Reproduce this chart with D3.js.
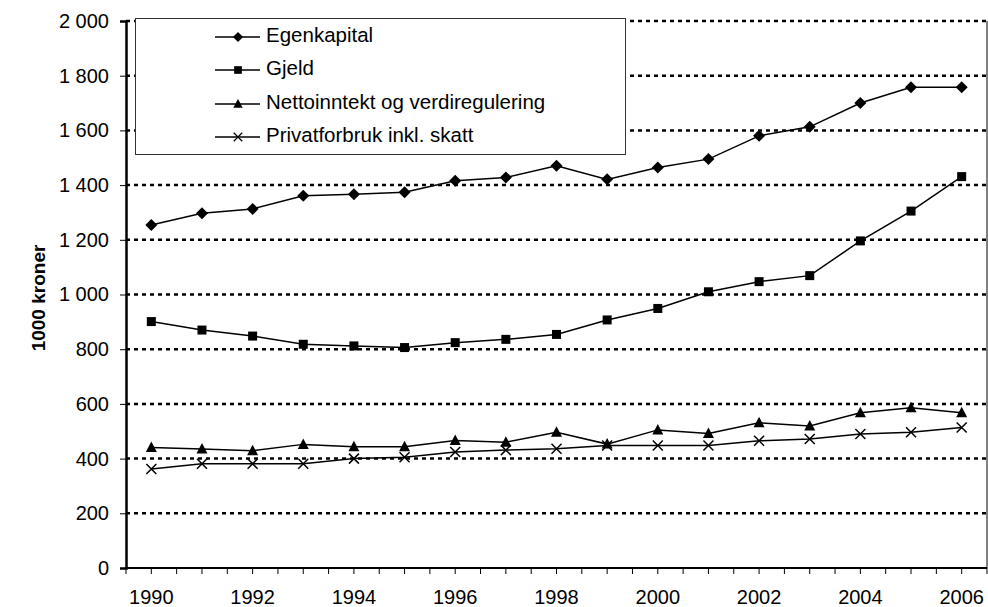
<!DOCTYPE html>
<head>
<title>Egenkapital og gjeld</title>
<style>
  body { margin: 0; background: #fff; }
  text { font-family: "Liberation Sans", Arial, sans-serif; fill: #000; }
</style>
</head>
<body>
<svg width="988" height="607" id="chart"></svg>
<script src="https://d3js.org/d3.v7.min.js"></script>
<script>

var years = d3.range(1990, 2007);
var egenkapital = [1254, 1297, 1313, 1361, 1367, 1374, 1416, 1428, 1471, 1421, 1464, 1495, 1580, 1613, 1700, 1758, 1758];
var gjeld = [901, 870, 848, 818, 812, 806, 824, 836, 854, 907, 949, 1010, 1047, 1069, 1196, 1305, 1431];
var nettoinntekt = [441, 435, 429, 452, 443, 443, 466, 460, 496, 453, 505, 492, 531, 519, 568, 586, 568];
var privatforbruk = [362, 381, 381, 381, 400, 405, 424, 431, 436, 448, 448, 448, 465, 472, 490, 496, 514];
var seriesNames = ["Egenkapital", "Gjeld", "Nettoinntekt og verdiregulering", "Privatforbruk inkl. skatt"];
var markers = ["diamond", "square", "triangle", "cross"];
var yTicks = [0, 200, 400, 600, 800, 1000, 1200, 1400, 1600, 1800, 2000];

var series = [egenkapital, gjeld, nettoinntekt, privatforbruk].map(function(v, i) {
  return { name: seriesNames[i], marker: markers[i], values: v };
});

var svg = d3.select("#chart");
var plotLeft = 126, plotRight = 987, plotTop = 21, plotBottom = 568;

var x = d3.scaleBand().domain(years).range([plotLeft, plotRight]);
var y = d3.scaleLinear().domain([0, 2000]).range([plotBottom, plotTop]);
var fmt = function(d) { return d3.format(",")(d).replace(",", " "); };
var cx = function(yr) { return x(yr) + x.bandwidth() / 2; };

// gridlines
svg.append("g").selectAll("line")
  .data(yTicks.filter(function(d) { return d > 0; }))
  .enter().append("line")
  .attr("x1", plotLeft).attr("x2", plotRight)
  .attr("y1", function(d) { return y(d); }).attr("y2", function(d) { return y(d); })
  .attr("stroke", "#000").attr("stroke-width", 2.5).attr("stroke-dasharray", "4,4");

// right border
svg.append("line").attr("x1", plotRight).attr("x2", plotRight).attr("y1", plotTop).attr("y2", plotBottom)
  .attr("stroke", "#000").attr("stroke-width", 1);

// y axis
var yAxis = svg.append("g")
  .attr("transform", "translate(" + plotLeft + ",0)")
  .call(d3.axisLeft(y).tickValues(yTicks).tickFormat(fmt).tickSize(6).tickPadding(11));
yAxis.select(".domain").attr("stroke-width", 2.5);
yAxis.selectAll("text").style("font-size", "20px").style("font-family", "Liberation Sans, Arial, sans-serif");

// x axis: ticks at category centres and boundaries
var xAxisG = svg.append("g").attr("transform", "translate(0," + plotBottom + ")");
xAxisG.append("line").attr("x1", plotLeft).attr("x2", plotRight).attr("stroke", "#000").attr("stroke-width", 2);
var tickPos = [];
years.forEach(function(yr) { tickPos.push(x(yr)); tickPos.push(cx(yr)); });
tickPos.push(plotRight);
xAxisG.selectAll(".tk").data(tickPos).enter().append("line")
  .attr("x1", function(d) { return d; }).attr("x2", function(d) { return d; })
  .attr("y1", 0).attr("y2", 6).attr("stroke", "#000").attr("stroke-width", 1);
xAxisG.selectAll(".lbl").data(years.filter(function(d) { return d % 2 === 0; }))
  .enter().append("text")
  .attr("x", function(d) { return cx(d); })
  .attr("y", 36)
  .attr("text-anchor", "middle")
  .style("font-size", "20px")
  .text(function(d) { return d; });

// y title
svg.append("text")
  .attr("transform", "translate(45,298) rotate(-90)")
  .attr("text-anchor", "middle")
  .style("font-size", "19px").style("font-weight", "bold")
  .text("1000 kroner");

function drawMarker(g, type, k) {
  k = k || 1;
  if (type === "diamond") {
    g.append("path").attr("d", "M0,-6L6,0L0,6L-6,0Z").attr("fill", "#000").attr("transform", "scale(" + k + ")");
  } else if (type === "square") {
    g.append("rect").attr("x", -4.5).attr("y", -4.5).attr("width", 9).attr("height", 9).attr("fill", "#000").attr("transform", "scale(" + k + ")");
  } else if (type === "triangle") {
    g.append("path").attr("d", "M0,-6L5.5,4.5L-5.5,4.5Z").attr("fill", "#000").attr("transform", "scale(" + k + ")");
  } else {
    g.append("path").attr("d", "M-5,-5L5,5M-5,5L5,-5").attr("stroke", "#000").attr("stroke-width", 1.5).attr("fill", "none").attr("transform", "scale(" + k + ")");
  }
}

var line = d3.line()
  .x(function(d, i) { return cx(years[i]); })
  .y(function(d) { return y(d); });

series.forEach(function(s) {
  svg.append("path").datum(s.values)
    .attr("d", line).attr("fill", "none").attr("stroke", "#000").attr("stroke-width", 1.5);
  svg.append("g").selectAll("g").data(s.values).enter().append("g")
    .attr("transform", function(d, i) { return "translate(" + cx(years[i]) + "," + y(d) + ")"; })
    .each(function() { drawMarker(d3.select(this), s.marker); });
});

// legend
var legend = svg.append("g");
legend.append("rect").attr("x", 135.5).attr("y", 18.5).attr("width", 490).attr("height", 136)
  .attr("fill", "#fff").attr("stroke", "#333").attr("stroke-width", 1);
var rowY = [37, 70, 104, 137];
series.forEach(function(s, i) {
  var row = legend.append("g").attr("transform", "translate(0," + rowY[i] + ")");
  row.append("line").attr("x1", 215).attr("x2", 260).attr("stroke", "#000").attr("stroke-width", 1.5);
  var m = row.append("g").attr("transform", "translate(238,0)");
  drawMarker(m, s.marker, 0.85);
  row.append("text").attr("x", 266).attr("y", 5).style("font-size", "20.5px").text(s.name);
});

</script>
</body>
